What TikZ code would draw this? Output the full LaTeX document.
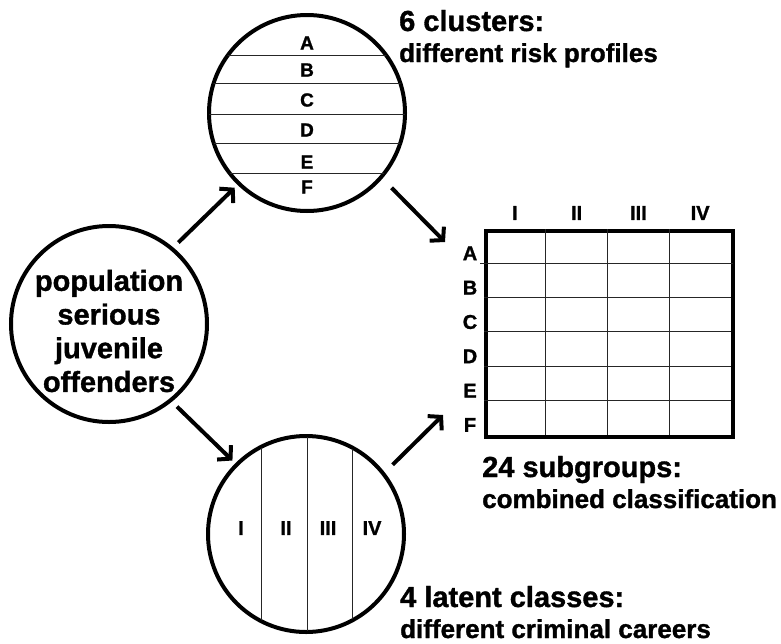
\documentclass[tikz,border=0pt]{standalone}
\usepackage{fontspec}
\setmainfont{Liberation Sans}[BoldFeatures={FakeBold=1.2}]
\usetikzlibrary{arrows.meta}
\begin{document}
\begin{tikzpicture}[x=1pt,y=-1pt,
  ring/.style={circle,draw,line width=4pt,inner sep=0pt,minimum size=196pt},
  arr/.style={line width=4pt,-{Straight Barb[length=9pt,width=20pt]}},
  divider/.style={line width=1pt,black!85},
  big/.style={font=\fontsize{29}{33.7}\selectfont\bfseries,inner sep=0pt},
  sub/.style={font=\fontsize{26}{30}\selectfont\bfseries,inner sep=0pt},
  lbl/.style={font=\fontsize{20}{20}\selectfont\bfseries,inner sep=0pt},
  slbl/.style={font=\fontsize{19}{19}\selectfont\bfseries,inner sep=0pt},
]
\useasboundingbox (0,0) rectangle (781,643);

% circles
\node[ring] (pop) at (109,324) {};
\node[ring] (clu) at (307,113) {};
\node[ring] (lat) at (306,534) {};

\node[big,align=center] (poptext) at (109,331) {population\\serious\\juvenile\\offenders};

% cluster bands
\begin{scope}
  \clip (clu.center) circle[radius=98pt];
  \foreach \yy in {55,83,114,143,173}
    \draw[divider] (200,\yy) -- (420,\yy);
\end{scope}
\foreach \t/\yy in {A/43,B/70,C/100,D/130,E/162,F/187}
  \node[slbl] (c\t) at (307,\yy) {\t};

% latent class columns
\begin{scope}
  \clip (lat.center) circle[radius=97pt];
  \foreach \xx in {261,307,352}
    \draw[divider] (\xx,420) -- (\xx,650);
\end{scope}
\foreach \t/\xx/\n in {I/241/1,II/286/2,III/328/3,IV/372/4}
  \node[lbl] (l\n) at (\xx,528) {\t};

% grid
\node[draw,line width=4pt,inner sep=0pt,minimum width=247pt,minimum height=206pt,anchor=north west] (grid) at (484,229) {};
\draw[divider] (480,263.33) -- (733,263.33);
\foreach \k in {2,...,5}
  \draw[divider] (484,229+34.33*\k) -- (731,229+34.33*\k);
\foreach \k in {1,2,3}
  \draw[divider] (484+61.75*\k,229) -- (484+61.75*\k,435);
\foreach \t/\k in {I/0,II/1,III/2,IV/3}
  \node[lbl] (gc\k) at (484+30.875+61.75*\k,213) {\t};
\foreach \t/\k in {A/1,B/2,C/3,D/4,E/5,F/6}
  \node[lbl] (gr\t) at (470,229+34.33*\k-10) {\t};

% arrows
\coordinate (g1) at (445,242);
\coordinate (g2) at (443,415);
\draw[arr,shorten <=7pt,shorten >=4pt] (pop.50) -- (clu.226);
\draw[arr,shorten <=7pt,shorten >=4pt] (pop.309) -- (lat.135);
\draw[arr,shorten <=13pt] (clu.319) -- (g1);
\draw[arr,shorten <=11pt] (lat.38.7) -- (g2);

% captions
\node[big,anchor=base west] (t1) at (399,31) {6 clusters:};
\node[sub,anchor=base west] (s1) at (399,62) {different risk profiles};
\node[big,anchor=base west] (t2) at (482,477) {24 subgroups:};
\node[sub,anchor=base west] (s2) at (482,508) {combined classification};
\node[big,anchor=base west] (t3) at (400,607) {4 latent classes:};
\node[sub,anchor=base west] (s3) at (400,638) {different criminal careers};
\end{tikzpicture}
\end{document}
